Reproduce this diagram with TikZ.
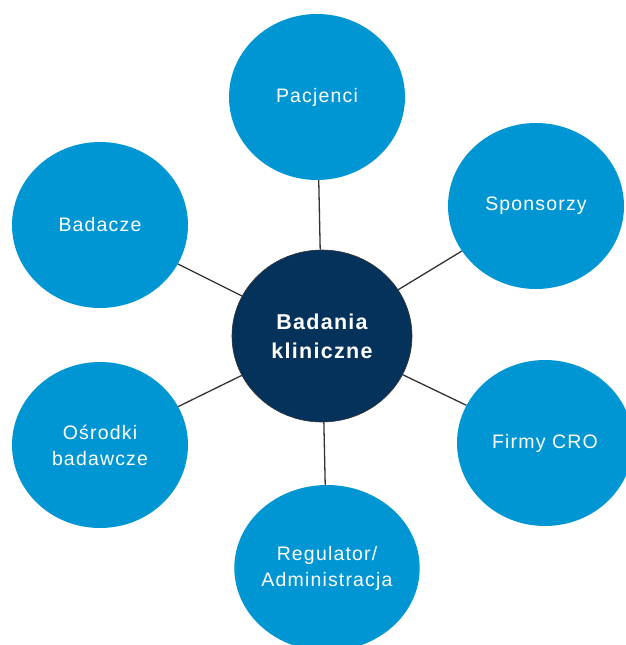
\documentclass[tikz,border=0pt]{standalone}
\usepackage{fontspec}
\setmainfont{Liberation Sans}[LetterSpace=6]
\usetikzlibrary{shapes.geometric}
\definecolor{outerblue}{RGB}{0,150,212}
\definecolor{navy}{RGB}{4,50,90}
\definecolor{linegray}{RGB}{50,50,50}
\tikzset{
  outer/.style={ellipse, fill=outerblue, draw=none, minimum width=176pt, minimum height=166pt, inner sep=0pt,
    text=white, font=\fontsize{19.5}{26}\selectfont, align=center},
  hub/.style={ellipse, fill=navy, draw=linegray, line width=0.6pt, minimum width=180pt, minimum height=172pt, inner sep=0pt,
    text=white, font=\fontsize{21.5}{29}\selectfont\bfseries, align=center},
  link/.style={draw=linegray, line width=1.3pt}
}
\begin{document}
\begin{tikzpicture}[x=1pt,y=-1pt]
\useasboundingbox (0,0) rectangle (625,645);
\node[hub] (c) at (322,336) {Badania\\kliniczne};
\node[outer] (p) at (317,97) {Pacjenci};
\node[outer] (s) at (536,206) {Sponsorzy};
\node[outer] (b) at (100,225) {Badacze};
\node[outer] (o) at (100,445) {Ośrodki\\badawcze};
\node[outer] (f) at (545,443) {Firmy CRO};
\node[outer] (r) at (327,568) {Regulator/\\Administracja};
\foreach \n in {p,s,b,o,f,r}{\draw[link] (c) -- (\n);}
\end{tikzpicture}
\end{document}
